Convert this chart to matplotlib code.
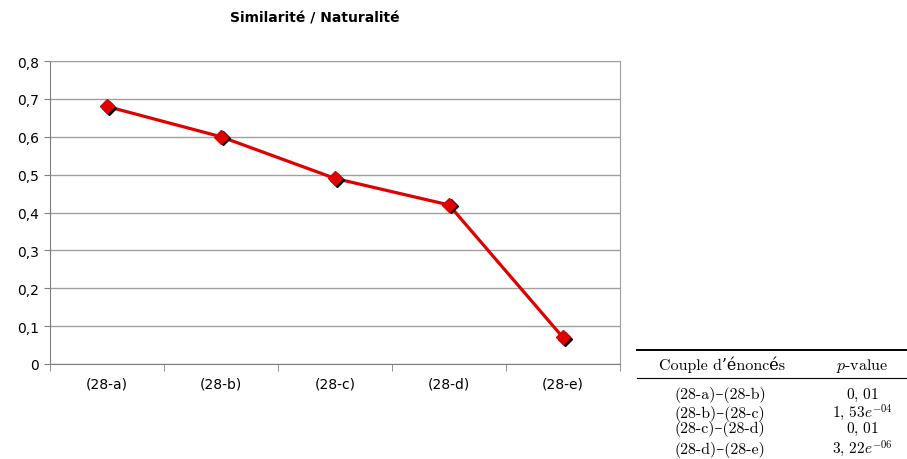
import matplotlib
matplotlib.use("Agg")
import matplotlib.pyplot as plt
import matplotlib.transforms as mtransforms
from matplotlib.ticker import FixedLocator, FuncFormatter

categories = ["(28-a)", "(28-b)", "(28-c)", "(28-d)", "(28-e)"]
values = [0.68, 0.60, 0.49, 0.42, 0.07]
yticks = [0, 0.1, 0.2, 0.3, 0.4, 0.5, 0.6, 0.7, 0.8]
title = "Similarité / Naturalité"
table_header = ["Couple d\u2019énoncés", r"$p$-value"]
table_pairs = ["(28-a)\u2013(28-b)", "(28-b)\u2013(28-c)", "(28-c)\u2013(28-d)", "(28-d)\u2013(28-e)"]
table_pvalues = [r"$0,\,01$", r"$1,\,53e^{-04}$", r"$0,\,01$", r"$3,\,22e^{-06}$"]

plt.rcParams['mathtext.fontset'] = 'cm'
plt.rcParams['axes.unicode_minus'] = False

fig = plt.figure(figsize=(9.07, 4.6), dpi=100)
ax = fig.add_axes([50/907, 95/460, 570/907, 303/460])

x = list(range(len(categories)))
ax.plot(x, values, color="#e00000", lw=2.3, zorder=3)
shadow = mtransforms.offset_copy(ax.transData, fig=fig, x=1.5, y=-1.5, units="dots")
ax.plot(x, values, linestyle="none", marker="D", ms=7, color="black", transform=shadow, zorder=4)
ax.plot(x, values, linestyle="none", marker="D", ms=7, color="#e00000", zorder=5)

ax.set_xlim(-0.5, len(categories) - 0.5)
ax.set_ylim(0, 0.8)
ax.set_xticks(x)
ax.set_xticklabels(categories, fontsize=10)
ax.xaxis.set_minor_locator(FixedLocator([i - 0.5 for i in range(len(categories) + 1)]))
ax.tick_params(axis="x", which="major", length=0, pad=9)
ax.tick_params(axis="x", which="minor", length=5, color="#808080", direction="out")
ax.set_yticks(yticks)
ax.yaxis.set_major_formatter(FuncFormatter(lambda v, p: ("%g" % round(v, 1)).replace(".", ",")))
ax.tick_params(axis="y", length=4, color="#808080", labelsize=10, pad=4)
ax.grid(axis="y", color="#a0a0a0", lw=1)
ax.set_axisbelow(True)
for s in ["left", "bottom"]:
    ax.spines[s].set_color("#808080")
for s in ["right", "top"]:
    ax.spines[s].set_color("#a0a0a0")

fig.text(315/907, 1 - 18/460, title, ha="center", va="center", fontsize=10, fontweight="bold")

# table
serif = ["cmr10", "DejaVu Serif"]
fig.add_artist(plt.Line2D([637/907, 907/907], [1 - 351/460] * 2, color="black", lw=1.4))
fig.add_artist(plt.Line2D([637/907, 907/907], [1 - 379/460] * 2, color="black", lw=0.8))
fig.text(722/907, 1 - 370/460, table_header[0], ha="center", va="baseline", fontsize=11.5, family=serif)
fig.text(862/907, 1 - 370/460, table_header[1], ha="center", va="baseline", fontsize=11.5, family=serif)
row_base = [399, 418, 433, 454]
for yy, pair, pv in zip(row_base, table_pairs, table_pvalues):
    fig.text(720/907, 1 - yy/460, pair, ha="center", va="baseline", fontsize=11.5, family=serif)
    fig.text(862/907, 1 - yy/460, pv, ha="center", va="baseline", fontsize=11)

fig.savefig("out.png", dpi=100)
